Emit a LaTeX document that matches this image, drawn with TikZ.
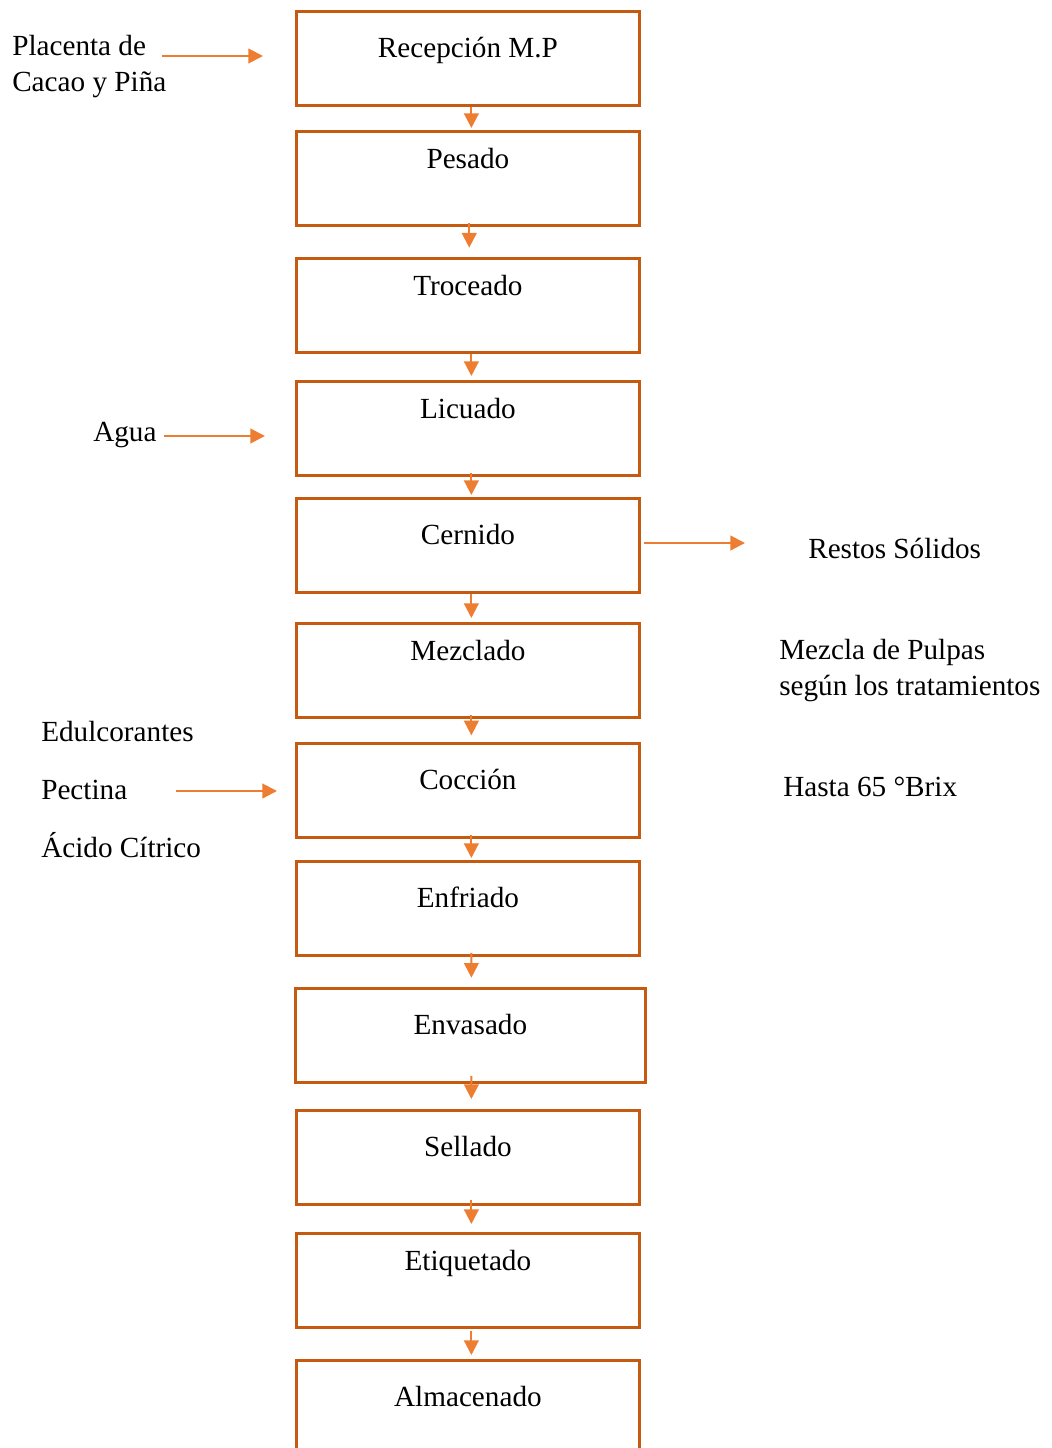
\documentclass[tikz,border=0pt]{standalone}
\usepackage{fontspec}
\setmainfont{Liberation Serif}
\usetikzlibrary{arrows.meta}
\definecolor{bordeNaranja}{RGB}{197,90,17}
\definecolor{flechaNaranja}{RGB}{237,125,49}
\tikzset{
	etapa/.style={draw=bordeNaranja, line width=2.1pt, anchor=north west, inner sep=0pt,
		minimum width=257.25pt, text height=34.5pt, text depth=36pt},
	alta/.style={text height=28pt, text depth=42.5pt},
	texto/.style={anchor=base west, inner sep=0pt, align=left},
	flujo/.style={draw=flechaNaranja, line width=1.6pt, -{Triangle[length=11pt,width=11pt]}},
}
\begin{document}
\begin{tikzpicture}[x=0.75pt, y=-0.75pt, font=\fontsize{21.9pt}{27pt}\selectfont]
			\useasboundingbox (0,0) rectangle (1051,1448);
			% etapas del proceso
			\node[etapa] (rec) at (295,10) {Recepción M.P};
			\node[etapa, alta] (pes) at (295,130) {Pesado};
			\node[etapa, alta] (tro) at (295,257) {Troceado};
			\node[etapa, alta] (lic) at (295,380) {Licuado};
			\node[etapa] (cer) at (295,497) {Cernido};
			\node[etapa, alta] (mez) at (295,622) {Mezclado};
			\node[etapa] (coc) at (295,742) {Cocción};
			\node[etapa] (enf) at (295,860) {Enfriado};
			\node[etapa, minimum width=262.5pt] (env) at (294,987) {Envasado};
			\node[etapa] (sel) at (295,1109) {Sellado};
			\node[etapa, alta] (eti) at (295,1232) {Etiquetado};
			\node[etapa] (alm) at (295,1359) {Almacenado};
			% flechas entre etapas
			\draw[flujo] ([xshift=2.6pt]rec.south) -- ([xshift=2.6pt,yshift=1.5pt]pes.north);
			\draw[flujo] ([xshift=1pt,yshift=3pt]pes.south) -- ([xshift=1pt,yshift=7pt]tro.north);
			\draw[flujo] ([xshift=2.6pt]tro.south) -- ([xshift=2.6pt,yshift=3pt]lic.north);
			\draw[flujo] ([xshift=2.6pt,yshift=3pt]lic.south) -- ([xshift=2.6pt,yshift=1.5pt]cer.north);
			\draw[flujo] ([xshift=2.6pt]cer.south) -- ([xshift=2.6pt,yshift=3pt]mez.north);
			\draw[flujo] ([xshift=2.6pt,yshift=3pt]mez.south) -- ([xshift=2.6pt,yshift=5pt]coc.north);
			\draw[flujo] ([xshift=2.6pt,yshift=3pt]coc.south) -- ([xshift=2.6pt,yshift=1.5pt]enf.north);
			\draw[flujo] ([xshift=2.6pt,yshift=3pt]enf.south) -- ([xshift=0.75pt,yshift=7pt]env.north);
			\draw[flujo] ([xshift=0.75pt,yshift=6pt]env.south) -- ([xshift=2.6pt,yshift=7.5pt]sel.north);
			\draw[flujo] ([xshift=2.6pt,yshift=4pt]sel.south) -- ([xshift=2.6pt,yshift=6pt]eti.north);
			\draw[flujo] ([xshift=2.6pt,yshift=-2pt]eti.south) -- ([xshift=2.6pt,yshift=3pt]alm.north);
			% entradas y salidas
			\node[texto] (placenta) at (12,92) {Placenta de\\Cacao y Piña};
			\node[texto] (agua) at (93,441) {Agua};
			\node[texto] (restos) at (808,558) {Restos Sólidos};
			\node[texto] (pulpas) at (779,695) {Mezcla de Pulpas\\según los tratamientos};
			\node[texto] (edul) at (41,741) {Edulcorantes};
			\node[texto] (pect) at (41,799) {Pectina};
			\node[texto] (acido) at (41,857) {Ácido Cítrico};
			\node[texto] (brix) at (783,796) {Hasta 65 °Brix};
			\coordinate (placIn) at (162,56);
			\coordinate (placOut) at (263,56);
			\coordinate (aguaIn) at (164,436);
			\coordinate (aguaOut) at (265,436);
			\coordinate (restIn) at (644,543);
			\coordinate (restOut) at (745,543);
			\coordinate (pectIn) at (176,791);
			\coordinate (pectOut) at (277,791);
			\draw[flujo] (placIn) -- (placOut);
			\draw[flujo] (aguaIn) -- (aguaOut);
			\draw[flujo] (restIn) -- (restOut);
			\draw[flujo] (pectIn) -- (pectOut);
		\end{tikzpicture}
\end{document}
